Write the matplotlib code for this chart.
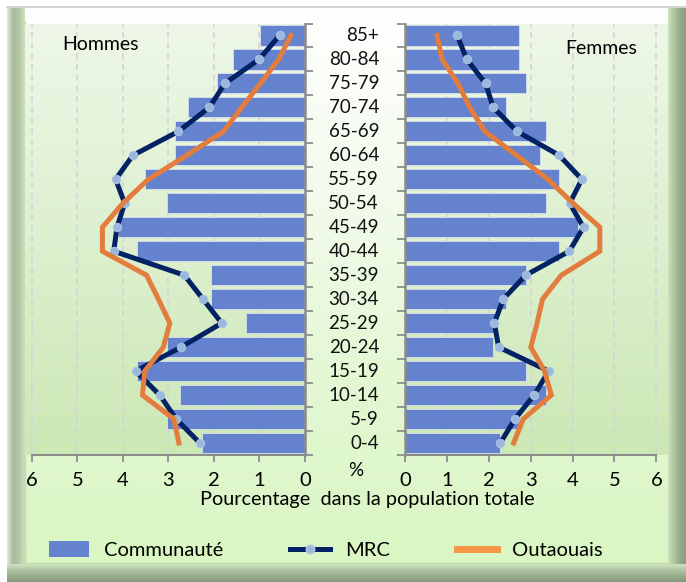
import matplotlib
matplotlib.use('Agg')
import matplotlib.pyplot as plt
import numpy as np
from matplotlib.colors import LinearSegmentedColormap
from matplotlib.lines import Line2D
from matplotlib.patches import Patch
import matplotlib.transforms as mtransforms

# ---------------- data ----------------
categories = ['0-4', '5-9', '10-14', '15-19', '20-24', '25-29', '30-34', '35-39',
              '40-44', '45-49', '50-54', '55-59', '60-64', '65-69', '70-74',
              '75-79', '80-84', '85+']
communaute_h = [2.26, 3.04, 2.74, 3.70, 3.04, 1.29, 2.07, 2.07, 3.70, 4.11,
                3.04, 3.52, 2.86, 2.86, 2.56, 1.94, 1.59, 0.98]
mrc_h = [2.31, 2.83, 3.19, 3.72, 2.72, 1.83, 2.24, 2.65, 4.20, 4.13,
         3.96, 4.16, 3.78, 2.78, 2.10, 1.76, 1.01, 0.56]
outaouais_h = [2.77, 2.88, 3.57, 3.52, 3.11, 2.97, 3.22, 3.48, 4.45, 4.45,
               4.00, 3.44, 2.60, 1.79, 1.39, 0.98, 0.58, 0.31]
communaute_f = [2.26, 2.75, 3.37, 2.89, 2.09, 2.14, 2.41, 2.89, 3.68, 4.12,
                3.37, 3.68, 3.21, 3.36, 2.41, 2.89, 2.72, 2.72]
mrc_f = [2.27, 2.62, 3.08, 3.43, 2.23, 2.13, 2.34, 2.88, 3.92, 4.26,
         3.93, 4.22, 3.68, 2.67, 2.10, 1.92, 1.47, 1.24]
outaouais_f = [2.59, 2.82, 3.49, 3.33, 3.00, 3.15, 3.28, 3.73, 4.65, 4.65,
               4.01, 3.41, 2.66, 1.90, 1.54, 1.26, 0.88, 0.76]
xticks = [0, 1, 2, 3, 4, 5, 6]

# ---------------- style ----------------
FONT = 'Lato'
BAR = '#6482CD'
NAVY = '#022263'
MARK = '#9BB7DD'
ORANGE = '#E27D3D'
ORANGE_LEG = '#F79646'
SPINE = '#8C8C8C'

W, H = 686, 582
fig = plt.figure(figsize=(W / 100, H / 100), dpi=100)

def fx(px):
    return px / W

def fy(py):
    return 1 - py / H

# background / frame
bg = fig.add_axes([0, 0, 1, 1], zorder=-10)
bg.set_xlim(0, W)
bg.set_ylim(H, 0)
bg.axis('off')
vgrad = np.linspace(0, 1, 256).reshape(-1, 1)
hgrad = np.linspace(0, 1, 256).reshape(1, -1)
cm_content = LinearSegmentedColormap.from_list('c', ['#FFFFFF', '#F3FBEC', '#E4F8D4', '#D9F6C3'])
bg.imshow(vgrad, extent=[25, 668, 563, 8], cmap=cm_content, aspect='auto', zorder=0)
cm_left = LinearSegmentedColormap.from_list('l', ['#E4E8E0', '#A9B99E', '#B2C6A4', '#CDE2BD'])
bg.imshow(hgrad, extent=[7, 25, 582, 8], cmap=cm_left, aspect='auto', zorder=1)
cm_right = LinearSegmentedColormap.from_list('r', ['#CDE2BD', '#AFC3A2', '#97AA8B', '#8A9C80'])
bg.imshow(hgrad, extent=[668, 686, 582, 8], cmap=cm_right, aspect='auto', zorder=1)
cm_bot = LinearSegmentedColormap.from_list('b', ['#CFE5BF', '#B0C5A2', '#98AC8C', '#889A7E'])
bg.imshow(vgrad, extent=[7, 686, 582, 564], cmap=cm_bot, aspect='auto', zorder=2)
bg.plot([7, 686], [7, 7], color='#C9CFC4', lw=1.2, zorder=3)
bg.plot([25, 25, 668], [22, 563, 563], color='#C2D8B2', lw=1.0, zorder=3)

# axes
top_px, bot_px = 23.5, 455
axL = fig.add_axes([fx(25), fy(bot_px), (305 - 25) / W, (bot_px - top_px) / H])
axR = fig.add_axes([fx(405.3), fy(bot_px), (668 - 405.3) / W, (bot_px - top_px) / H])

cm_ax = LinearSegmentedColormap.from_list('a', ['#EEF7E7', '#DDF0CF', '#CCE8B5'])
y = np.arange(len(categories))

for ax, comm, mrc, out, xl in [(axL, communaute_h, mrc_h, outaouais_h, (6.15, 0)),
                               (axR, communaute_f, mrc_f, outaouais_f, (0, 6.28))]:
    ax.imshow(vgrad, extent=[0, 1, 0, 1], transform=ax.transAxes, cmap=cm_ax,
              aspect='auto', zorder=0)
    ax.barh(y, comm, height=0.84, color=BAR, edgecolor='#D8E2F0', linewidth=0.6, zorder=2)
    ax.plot(mrc, y, color=NAVY, lw=3.6, marker='o', markersize=6.2,
            markerfacecolor=MARK, markeredgecolor='#AFC6E4', markeredgewidth=0.6, zorder=3)
    ax.plot(out, y, color=ORANGE, lw=3.6, solid_joinstyle='miter', zorder=4)
    ax.set_xlim(*xl)
    ax.set_ylim(-0.5, len(categories) - 0.5)
    ax.set_xticks(xticks)
    ax.set_xticklabels([str(t) for t in xticks], fontsize=14.5, family=FONT)
    ax.tick_params(axis='x', direction='out', length=5, width=1.3, color=SPINE, pad=7.5)
    ax.set_yticks(np.arange(-0.5, len(categories), 1.0))
    ax.set_yticklabels([])
    ax.tick_params(axis='y', direction='out', length=6, width=1.3, color=SPINE)
    ax.grid(axis='x', color='#D2D2DA', lw=1.1, linestyle=(0, (4, 3)), zorder=1)
    ax.set_axisbelow(True)
    for s in ['top', 'left', 'right', 'bottom']:
        ax.spines[s].set_visible(False)
    ax.spines['bottom'].set_visible(True)
    ax.spines['bottom'].set_color(SPINE)
    ax.spines['bottom'].set_linewidth(1.5)
    ax.spines['bottom'].set_bounds(0, 6)

axL.yaxis.tick_right()
axL.spines['right'].set_visible(True)
axL.spines['right'].set_color(SPINE)
axL.spines['right'].set_linewidth(1.8)
axR.yaxis.tick_left()
axR.spines['left'].set_visible(True)
axR.spines['left'].set_color(SPINE)
axR.spines['left'].set_linewidth(1.8)

# category labels in the middle
trans = mtransforms.blended_transform_factory(fig.transFigure, axL.transData)
for i, c in enumerate(categories):
    axL.text(fx(379), i, c, transform=trans, ha='right', va='center',
             fontsize=13.5, family=FONT, color='#111111', clip_on=False)

fig.text(fx(101), fy(45), 'Hommes', ha='center', va='center', fontsize=14, family=FONT)
fig.text(fx(601), fy(48), 'Femmes', ha='center', va='center', fontsize=14, family=FONT)
fig.text(fx(356), fy(471), '%', ha='center', va='center', fontsize=13.5, family=FONT)
fig.text(fx(367), fy(500), 'Pourcentage  dans la population totale', ha='center',
         va='center', fontsize=14.3, family=FONT)

handles = [Patch(facecolor=BAR, edgecolor='none'),
           Line2D([], [], color=NAVY, lw=3.6, marker='o', markersize=6.2,
                  markerfacecolor=MARK, markeredgecolor='#AFC6E4'),
           Line2D([], [], color=ORANGE_LEG, lw=5)]
leg = fig.legend(handles, ['Communauté', 'MRC', 'Outaouais'], loc='center',
                 bbox_to_anchor=(fx(326), fy(550)), ncol=3, frameon=False,
                 prop={'family': FONT, 'size': 14.5}, handlelength=2.0,
                 handleheight=0.8, handletextpad=0.75, columnspacing=3.3)

fig.savefig('out.png', dpi=100)
